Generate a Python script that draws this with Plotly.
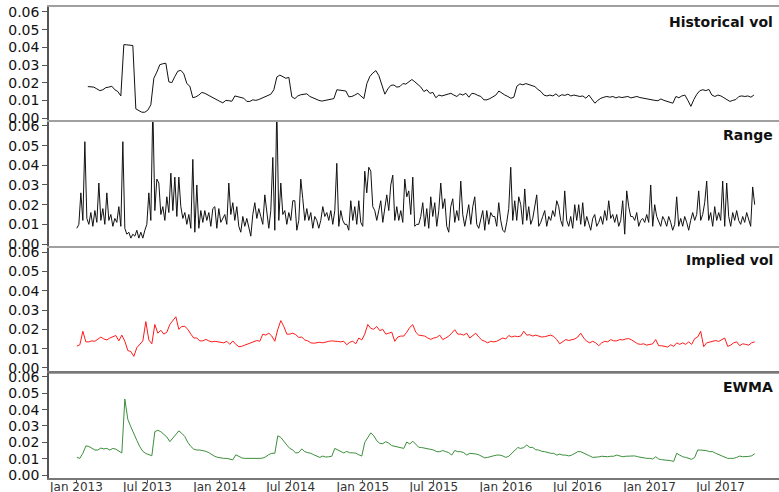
import pandas as pd
import plotly.graph_objects as go

# ---- data ----
hist_start, hist_end = "2013-01-30", "2017-09-24"
obs_start, obs_end = "2013-01-02", "2017-09-26"

hist_vol = [
    0.0178, 0.0176, 0.0175, 0.0165, 0.0155, 0.0160, 0.0172, 0.0175, 0.0180, 0.0160,
    0.0150, 0.0125, 0.0415, 0.0414, 0.0412, 0.0410, 0.0052, 0.0040, 0.0033, 0.0033,
    0.0045, 0.0075, 0.0225, 0.0260, 0.0302, 0.0307, 0.0310, 0.0205, 0.0200, 0.0235,
    0.0265, 0.0270, 0.0250, 0.0195, 0.0180, 0.0115, 0.0120, 0.0130, 0.0145, 0.0140,
    0.0130, 0.0120, 0.0110, 0.0100, 0.0094, 0.0086, 0.0100, 0.0098, 0.0095, 0.0125,
    0.0120, 0.0118, 0.0112, 0.0094, 0.0094, 0.0103, 0.0100, 0.0105, 0.0112, 0.0118,
    0.0128, 0.0135, 0.0160, 0.0232, 0.0243, 0.0232, 0.0225, 0.0230, 0.0120, 0.0110,
    0.0125, 0.0132, 0.0135, 0.0137, 0.0122, 0.0115, 0.0105, 0.0100, 0.0096, 0.0100,
    0.0100, 0.0105, 0.0110, 0.0160, 0.0158, 0.0158, 0.0153, 0.0120, 0.0122, 0.0130,
    0.0140, 0.0125, 0.0110, 0.0195, 0.0235, 0.0255, 0.0268, 0.0240, 0.0180, 0.0135,
    0.0165, 0.0185, 0.0187, 0.0175, 0.0178, 0.0195, 0.0192, 0.0205, 0.0218, 0.0205,
    0.0187, 0.0175, 0.0150, 0.0160, 0.0140, 0.0145, 0.0115, 0.0130, 0.0125, 0.0130,
    0.0132, 0.0140, 0.0130, 0.0122, 0.0137, 0.0130, 0.0140, 0.0118, 0.0140, 0.0137,
    0.0128, 0.0122, 0.0103, 0.0103, 0.0110, 0.0122, 0.0130, 0.0153, 0.0140, 0.0130,
    0.0122, 0.0112, 0.0118, 0.0180, 0.0193, 0.0188, 0.0195, 0.0190, 0.0185, 0.0178,
    0.0162, 0.0150, 0.0130, 0.0125, 0.0130, 0.0125, 0.0137, 0.0122, 0.0132, 0.0128,
    0.0135, 0.0125, 0.0130, 0.0128, 0.0122, 0.0125, 0.0112, 0.0130, 0.0105, 0.0084,
    0.0100, 0.0112, 0.0118, 0.0122, 0.0118, 0.0122, 0.0114, 0.0120, 0.0116, 0.0120,
    0.0122, 0.0114, 0.0118, 0.0122, 0.0116, 0.0112, 0.0112, 0.0108, 0.0104, 0.0100,
    0.0098, 0.0108, 0.0100, 0.0094, 0.0088, 0.0084, 0.0122, 0.0115, 0.0125, 0.0130,
    0.0100, 0.0066, 0.0105, 0.0135, 0.0155, 0.0160, 0.0155, 0.0162, 0.0130, 0.0122,
    0.0130, 0.0125, 0.0115, 0.0105, 0.0094, 0.0100, 0.0105, 0.0122, 0.0125, 0.0122,
    0.0125, 0.0118, 0.0130,
]

range_vol = [
    0.008, 0.010, 0.026, 0.012, 0.052, 0.013, 0.010, 0.016, 0.009, 0.017,
    0.011, 0.031, 0.012, 0.018, 0.010, 0.026, 0.012, 0.015, 0.009, 0.013,
    0.011, 0.019, 0.009, 0.052, 0.008, 0.005, 0.006, 0.003, 0.005, 0.004,
    0.007, 0.003, 0.006, 0.003, 0.007, 0.010, 0.026, 0.012, 0.070, 0.017,
    0.033, 0.031, 0.015, 0.019, 0.012, 0.024, 0.016, 0.036, 0.017, 0.034,
    0.014, 0.034, 0.019, 0.013, 0.016, 0.010, 0.015, 0.008, 0.043, 0.006,
    0.030, 0.008, 0.017, 0.011, 0.017, 0.012, 0.016, 0.009, 0.018, 0.019,
    0.008, 0.018, 0.011, 0.013, 0.015, 0.010, 0.031, 0.015, 0.021, 0.012,
    0.019, 0.009, 0.006, 0.014,
    0.009, 0.013, 0.008, 0.004, 0.015, 0.021, 0.013, 0.018, 0.014, 0.010,
    0.025, 0.016, 0.008, 0.017, 0.044, 0.007, 0.070, 0.012, 0.031, 0.015,
    0.017, 0.010, 0.016, 0.012, 0.022, 0.022, 0.007, 0.012, 0.033, 0.023,
    0.012, 0.018, 0.012, 0.016, 0.008, 0.014, 0.012, 0.008, 0.012, 0.019,
    0.014, 0.016, 0.012, 0.017, 0.010, 0.017, 0.041, 0.009, 0.017, 0.012,
    0.010, 0.010, 0.007, 0.022, 0.012, 0.019, 0.010, 0.022, 0.011, 0.009,
    0.037, 0.026, 0.039, 0.037, 0.019, 0.017, 0.012, 0.017, 0.022, 0.011,
    0.019, 0.025, 0.017, 0.030, 0.035, 0.012, 0.019, 0.012, 0.017, 0.011,
    0.033, 0.024, 0.027, 0.015, 0.034,
    0.009, 0.010, 0.010, 0.014, 0.021, 0.009, 0.018, 0.008, 0.024, 0.014,
    0.021, 0.009, 0.017, 0.031, 0.018, 0.023, 0.009, 0.006, 0.019, 0.023,
    0.011, 0.017, 0.012, 0.032, 0.015, 0.009, 0.014, 0.020, 0.010, 0.019,
    0.024, 0.010, 0.008, 0.013, 0.017, 0.007, 0.017, 0.010, 0.016, 0.014,
    0.014, 0.009, 0.021, 0.012, 0.007, 0.006, 0.011, 0.018, 0.039, 0.012,
    0.022, 0.012, 0.024, 0.020, 0.010, 0.028, 0.012, 0.019, 0.010, 0.013,
    0.019, 0.025, 0.009, 0.011, 0.014, 0.017, 0.009, 0.014, 0.012, 0.017,
    0.014, 0.022, 0.019, 0.012, 0.009, 0.027, 0.012, 0.009, 0.014, 0.008,
    0.020, 0.012, 0.020, 0.010, 0.021,
    0.009, 0.014, 0.011, 0.007, 0.013, 0.015, 0.009, 0.011, 0.014, 0.010,
    0.017, 0.012, 0.022, 0.013, 0.015, 0.011, 0.015, 0.009, 0.012, 0.022,
    0.005, 0.027, 0.019, 0.014, 0.014, 0.012, 0.016, 0.009, 0.012, 0.013,
    0.011, 0.015, 0.011, 0.030, 0.009, 0.020, 0.014, 0.011, 0.009, 0.014,
    0.012, 0.009, 0.014, 0.011, 0.007, 0.010, 0.024, 0.009, 0.013, 0.009,
    0.014, 0.011, 0.007, 0.012, 0.016, 0.012, 0.015, 0.027, 0.012, 0.015,
    0.021, 0.032, 0.012, 0.016, 0.009, 0.019, 0.012, 0.016, 0.012, 0.032,
    0.009, 0.031, 0.014, 0.009, 0.016, 0.012, 0.017, 0.012, 0.010, 0.014,
    0.011, 0.016, 0.012, 0.009, 0.029, 0.020,
]

implied_vol = [
    0.0113, 0.0120, 0.0190, 0.0135, 0.0135, 0.0140, 0.0138, 0.0150, 0.0160, 0.0150,
    0.0145, 0.0155, 0.0162, 0.0168, 0.0140, 0.0170, 0.0138, 0.0090, 0.0085, 0.0060,
    0.0105, 0.0120, 0.0140, 0.0240, 0.0145, 0.0125, 0.0225, 0.0180, 0.0195, 0.0175,
    0.0185, 0.0225, 0.0245, 0.0265, 0.0200, 0.0215, 0.0215, 0.0200, 0.0175, 0.0155,
    0.0155, 0.0140, 0.0140, 0.0148, 0.0140, 0.0135, 0.0138, 0.0135, 0.0130, 0.0130,
    0.0138, 0.0122, 0.0140, 0.0122, 0.0110, 0.0112, 0.0118, 0.0125, 0.0130, 0.0135,
    0.0142, 0.0138, 0.0175, 0.0170, 0.0180, 0.0165, 0.0138, 0.0200, 0.0245, 0.0215,
    0.0175, 0.0175, 0.0180, 0.0172, 0.0158, 0.0160, 0.0145, 0.0140, 0.0130, 0.0128,
    0.0130, 0.0133, 0.0130, 0.0135, 0.0138, 0.0140, 0.0140, 0.0137, 0.0135, 0.0138,
    0.0120, 0.0133, 0.0138, 0.0125, 0.0155, 0.0145, 0.0175, 0.0225, 0.0205, 0.0200,
    0.0215, 0.0193, 0.0200, 0.0175, 0.0180, 0.0185, 0.0138, 0.0160, 0.0165, 0.0165,
    0.0185, 0.0210, 0.0224, 0.0185, 0.0170, 0.0168, 0.0165, 0.0155, 0.0148, 0.0155,
    0.0158, 0.0170, 0.0147, 0.0155, 0.0165, 0.0180, 0.0198, 0.0175, 0.0175, 0.0170,
    0.0180, 0.0155, 0.0170, 0.0180, 0.0160, 0.0145, 0.0138, 0.0130, 0.0138, 0.0135,
    0.0138, 0.0147, 0.0155, 0.0150, 0.0168, 0.0160, 0.0165, 0.0162, 0.0165, 0.0190,
    0.0170, 0.0172, 0.0165, 0.0170, 0.0165, 0.0160, 0.0162, 0.0165, 0.0170, 0.0163,
    0.0147, 0.0125, 0.0138, 0.0147, 0.0142, 0.0147, 0.0150, 0.0160, 0.0180, 0.0155,
    0.0138, 0.0130, 0.0138, 0.0130, 0.0115, 0.0130, 0.0138, 0.0135, 0.0147, 0.0140,
    0.0140, 0.0147, 0.0145, 0.0150, 0.0152, 0.0145, 0.0135, 0.0125, 0.0122, 0.0125,
    0.0118, 0.0122, 0.0125, 0.0147, 0.0115, 0.0115, 0.0112, 0.0108, 0.0120, 0.0112,
    0.0130, 0.0122, 0.0130, 0.0122, 0.0135, 0.0122, 0.0152, 0.0160, 0.0190, 0.0110,
    0.0130, 0.0135, 0.0138, 0.0142, 0.0137, 0.0147, 0.0155, 0.0112, 0.0118, 0.0130,
    0.0135, 0.0115, 0.0125, 0.0122, 0.0118, 0.0130, 0.0135,
]

ewma_vol = [
    0.0108, 0.0102, 0.0133, 0.0178, 0.0175, 0.0163, 0.0153, 0.0153, 0.0165, 0.0160,
    0.0163, 0.0153, 0.0163, 0.0158, 0.0148, 0.0135, 0.0465, 0.0340, 0.0295, 0.0250,
    0.0212, 0.0173, 0.0145, 0.0132, 0.0124, 0.0118, 0.0265, 0.0274, 0.0265, 0.0248,
    0.0233, 0.0204, 0.0225, 0.0245, 0.0270, 0.0255, 0.0235, 0.0200, 0.0175, 0.0158,
    0.0153, 0.0153, 0.0150, 0.0145, 0.0137, 0.0125, 0.0114, 0.0108, 0.0103, 0.0102,
    0.0102, 0.0098, 0.0093, 0.0124, 0.0115, 0.0105, 0.0102, 0.0102, 0.0099, 0.0102,
    0.0102, 0.0102, 0.0104, 0.0112, 0.0125, 0.0133, 0.0133, 0.0240, 0.0230, 0.0205,
    0.0184, 0.0163, 0.0153, 0.0135, 0.0138, 0.0160, 0.0143, 0.0137, 0.0133, 0.0124,
    0.0118, 0.0108, 0.0116, 0.0110, 0.0112, 0.0115, 0.0163, 0.0155, 0.0143, 0.0135,
    0.0145, 0.0136, 0.0136, 0.0134, 0.0124, 0.0116, 0.0200, 0.0228, 0.0258, 0.0240,
    0.0210, 0.0194, 0.0192, 0.0204, 0.0195, 0.0180, 0.0176, 0.0172, 0.0168, 0.0163,
    0.0202, 0.0190, 0.0207, 0.0190, 0.0170, 0.0168, 0.0163, 0.0160, 0.0157, 0.0153,
    0.0143, 0.0143, 0.0150, 0.0143, 0.0137, 0.0122, 0.0150, 0.0143, 0.0143, 0.0137,
    0.0122, 0.0133, 0.0133, 0.0129, 0.0124, 0.0112, 0.0105, 0.0108, 0.0115, 0.0118,
    0.0122, 0.0122, 0.0117, 0.0108, 0.0115, 0.0133, 0.0155, 0.0168, 0.0163, 0.0168,
    0.0184, 0.0169, 0.0169, 0.0155, 0.0153, 0.0145, 0.0143, 0.0136, 0.0133, 0.0133,
    0.0122, 0.0128, 0.0122, 0.0122, 0.0117, 0.0122, 0.0130, 0.0143, 0.0143, 0.0133,
    0.0122, 0.0117, 0.0108, 0.0108, 0.0111, 0.0115, 0.0112, 0.0112, 0.0115, 0.0115,
    0.0122, 0.0117, 0.0112, 0.0115, 0.0117, 0.0115, 0.0117, 0.0112, 0.0108, 0.0108,
    0.0102, 0.0102, 0.0098, 0.0112, 0.0098, 0.0094, 0.0092, 0.0092, 0.0088, 0.0083,
    0.0133, 0.0122, 0.0112, 0.0108, 0.0102, 0.0096, 0.0108, 0.0153, 0.0153, 0.0153,
    0.0149, 0.0143, 0.0143, 0.0133, 0.0126, 0.0120, 0.0112, 0.0102, 0.0102, 0.0102,
    0.0108, 0.0116, 0.0112, 0.0112, 0.0114, 0.0118, 0.0130,
]

panel_titles = ["Historical vol", "Range", "Implied vol", "EWMA"]
line_colors = ["#111111", "#111111", "#ff1a1a", "#3c8f3c"]
y_tick_vals = [0.00, 0.01, 0.02, 0.03, 0.04, 0.05, 0.06]

# ---- build ----
hist_dates = pd.date_range(hist_start, hist_end, periods=len(hist_vol))
range_dates = pd.date_range(obs_start, obs_end, periods=len(range_vol))
impl_dates = pd.date_range(obs_start, obs_end, periods=len(implied_vol))
ewma_dates = pd.date_range(obs_start, obs_end, periods=len(ewma_vol))

series = [(hist_dates, hist_vol), (range_dates, range_vol),
          (impl_dates, implied_vol), (ewma_dates, ewma_vol)]

H = 492
top_m, bot_m = 6, 14
plot_h = H - top_m - bot_m
def py(px):
    return (H - bot_m - px) / plot_h

panel_px = [(7, 120), (122, 246), (248, 372), (373, 478)]
y_ranges = [(-0.0011, 0.0628), (-0.001, 0.062), (-0.0021, 0.0621), (-0.0018, 0.0624)]
title_y_px = [22, 135, 260, 387]

fig = go.Figure()
layout = dict(
    width=779, height=492,
    margin=dict(l=49, r=0, t=top_m, b=bot_m, autoexpand=False),
    paper_bgcolor="white", plot_bgcolor="white",
    showlegend=False,
    font=dict(family="DejaVu Sans", color="#111111"),
    annotations=[],
)
x_range = ["2012-10-23", "2017-11-27"]

for i, ((d, v), col) in enumerate(zip(series, line_colors)):
    n = "" if i == 0 else str(i + 1)
    fig.add_trace(go.Scatter(x=d, y=v, mode="lines",
                             line=dict(color=col, width=1),
                             xaxis="x" + n, yaxis="y" + n, hoverinfo="skip"))
    top, bot = panel_px[i]
    last = (i == 3)
    layout["xaxis" + n] = dict(
        type="date", range=x_range, domain=[0, 1], anchor="y" + n,
        showgrid=False, zeroline=False, automargin=False,
        showline=True, mirror=True,
        linecolor="#777777" if last else "#a0a0a0", linewidth=2,
        showticklabels=last,
        ticks="outside" if last else "", ticklen=3, tickcolor="#555555",
        ticklabelstandoff=-6,
        tick0="2013-01-01", dtick="M6", tickformat="%b %Y",
        tickfont=dict(size=12, color="#333333", family="DejaVu Sans"),
        **({} if i == 0 else {"matches": "x"}),
    )
    layout["yaxis" + n] = dict(
        domain=[py(bot), py(top)], anchor="x" + n,
        range=list(y_ranges[i]), automargin=False,
        tickvals=y_tick_vals, tickformat=".2f",
        showgrid=False, zeroline=False,
        showline=True, linecolor="#555555", linewidth=1.5,
        ticks="outside", ticklen=5, tickcolor="#555555",
        tickfont=dict(size=14, color="#111111", family="DejaVu Sans"),
    )
    layout["annotations"].append(dict(
        text="<b>" + panel_titles[i] + "</b>",
        xref="paper", yref="paper", x=0.9945, y=py(title_y_px[i]),
        xanchor="right", yanchor="middle", showarrow=False,
        font=dict(size=14, color="#111111", family="DejaVu Sans"),
    ))

fig.update_layout(**layout)
fig.write_html("out.html",
               config={"displayModeBar": False},
               post_script="document.body.style.margin='0';document.body.style.padding='0';")
